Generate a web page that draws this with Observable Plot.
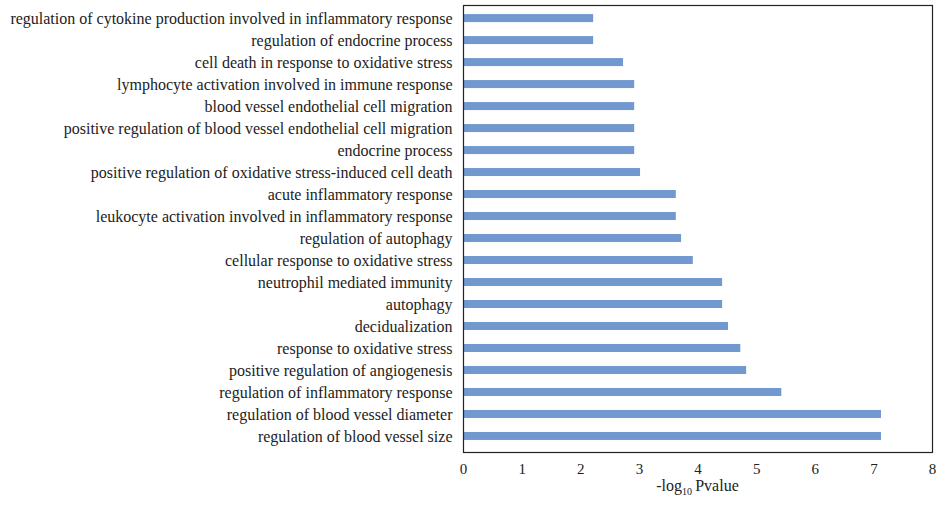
<!DOCTYPE html>
<html>
<head>
<meta charset="utf-8">
<script src="https://cdn.jsdelivr.net/npm/d3@7"></script>
<script src="https://cdn.jsdelivr.net/npm/@observablehq/plot@0.6"></script>
<style>
  html, body { margin: 0; padding: 0; background: #fff; }
  #chart svg { display: block; }
</style>
</head>
<body>
<div id="chart"></div>
<script>
const terms = [
  "regulation of cytokine production involved in inflammatory response",
  "regulation of endocrine process",
  "cell death in response to oxidative stress",
  "lymphocyte activation involved in immune response",
  "blood vessel endothelial cell migration",
  "positive regulation of blood vessel endothelial cell migration",
  "endocrine process",
  "positive regulation of oxidative stress-induced cell death",
  "acute inflammatory response",
  "leukocyte activation involved in inflammatory response",
  "regulation of autophagy",
  "cellular response to oxidative stress",
  "neutrophil mediated immunity",
  "autophagy",
  "decidualization",
  "response to oxidative stress",
  "positive regulation of angiogenesis",
  "regulation of inflammatory response",
  "regulation of blood vessel diameter",
  "regulation of blood vessel size"
];
const negLogP = [2.22, 2.22, 2.73, 2.92, 2.92, 2.92, 2.92, 3.02, 3.63, 3.63, 3.72, 3.92, 4.42, 4.42, 4.52, 4.73, 4.83, 5.43, 7.13, 7.13];
const xTicks = [0, 1, 2, 3, 4, 5, 6, 7, 8];

const data = terms.map((t, i) => ({term: t, value: negLogP[i]}));
const font = "'Liberation Serif', 'DejaVu Serif', serif";

const chart = Plot.plot({
  width: 940,
  height: 506,
  marginLeft: 463,
  marginRight: 8,
  marginTop: 5,
  marginBottom: 54,
  style: {fontFamily: font, fontSize: "16px", color: "#222", background: "#fff"},
  x: {domain: [0, 8], ticks: xTicks, label: null},
  y: {domain: terms, label: null, paddingInner: 0.636, paddingOuter: 0.48, align: 0.43, round: false},
  marks: [
    Plot.barX(data, {x: "value", y: "term", fill: "#7199cf"}),
    Plot.frame({stroke: "#222", strokeWidth: 1.2}),
    Plot.axisX({ticks: xTicks, tickSize: 0, tickPadding: 11, label: null, fontSize: 15, fill: "#222"}),
    Plot.axisY({tickSize: 0, tickPadding: 11, label: null, fontSize: 16, fill: "#222"})
  ]
});

const svg = d3.select(chart);
const t = svg.append("text")
  .attr("x", 463 + (932 - 463) / 2)
  .attr("y", 491)
  .attr("text-anchor", "middle")
  .attr("font-family", font)
  .attr("font-size", 16)
  .attr("fill", "#222");
t.append("tspan").text("-log");
t.append("tspan").attr("font-size", 10).attr("dy", 4).text("10");
t.append("tspan").attr("dy", -4).text("\u2009Pvalue");

document.getElementById("chart").appendChild(chart);
</script>
</body>
</html>
